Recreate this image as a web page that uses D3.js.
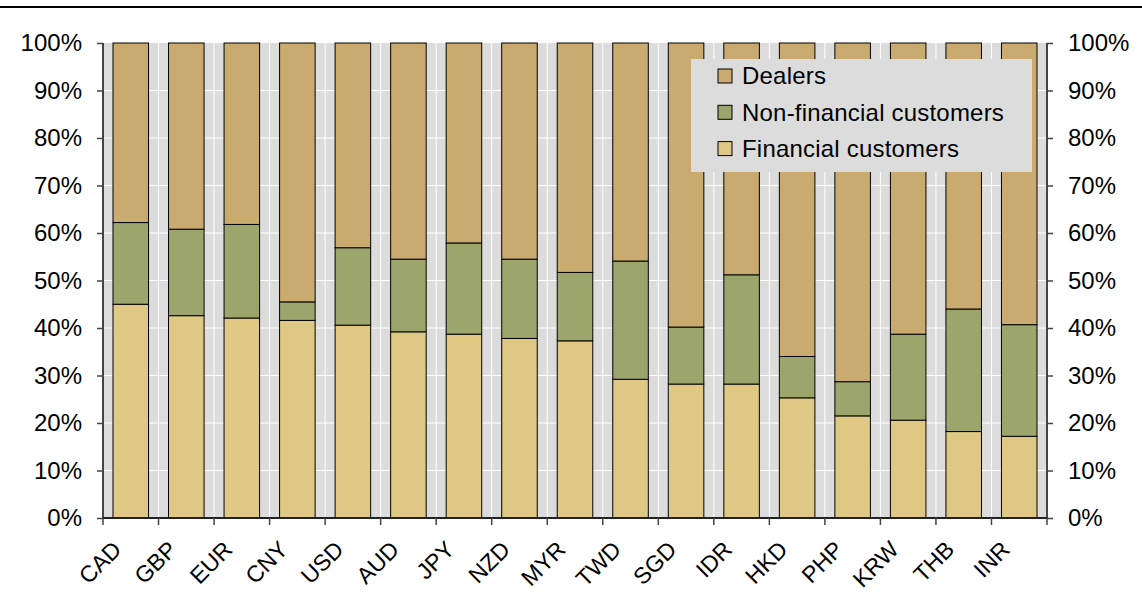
<!DOCTYPE html>
<html><head><meta charset="utf-8">
<script src="https://cdn.jsdelivr.net/npm/d3@7"></script>
<style>body{margin:0;background:#fff}svg{display:block}text{font-family:Arial,"Liberation Sans",sans-serif;fill:#000}</style>
</head><body><svg id="c" width="1142" height="592"></svg>
<script>
const categories = ["CAD","GBP","EUR","CNY","USD","AUD","JPY","NZD","MYR","TWD","SGD","IDR","HKD","PHP","KRW","THB","INR"];
const financial    = [45.0,42.6,42.1,41.6,40.6,39.2,38.7,37.8,37.3,29.2,28.2,28.2,25.3,21.5,20.6,18.2,17.2];
const nonFinancial = [17.2,18.2,19.7, 3.9,16.3,15.3,19.2,16.7,14.4,24.9,12.0,23.0, 8.7, 7.2,18.1,25.8,23.5];
const dealers      = categories.map((c,i)=>100-financial[i]-nonFinancial[i]);
const seriesNames = ["Financial customers","Non-financial customers","Dealers"];
const colors = {"Financial customers":"#dfc883","Non-financial customers":"#9ba56c","Dealers":"#c9ab70"};
const yTicks = [0,10,20,30,40,50,60,70,80,90,100];

const svg = d3.select("#c");
const L=103, R=1047, T=43, B=518;
const x = d3.scaleBand().domain(categories).range([L,R]).paddingInner(0.36).paddingOuter(0.18);
const xb = d3.scaleLinear().domain([0,categories.length]).range([L,R]);
const y = d3.scaleLinear().domain([0,100]).range([B,T]);

svg.append("line").attr("x1",0).attr("x2",1142).attr("y1",7).attr("y2",7).attr("stroke","#000").attr("stroke-width",2);

svg.append("rect").attr("x",L).attr("y",T).attr("width",R-L).attr("height",B-T).attr("fill","#dcdcdc");
svg.append("g").selectAll("line").data(yTicks.slice(1,-1)).join("line")
  .attr("x1",L).attr("x2",R).attr("y1",d=>y(d)).attr("y2",d=>y(d)).attr("stroke","#fff").attr("stroke-width",1);
svg.append("g").selectAll("line").data(d3.range(1,categories.length)).join("line")
  .attr("x1",d=>xb(d)).attr("x2",d=>xb(d)).attr("y1",T).attr("y2",B).attr("stroke","#fff").attr("stroke-width",1);

const rows = categories.map((c,i)=>({cat:c,"Financial customers":financial[i],"Non-financial customers":nonFinancial[i],"Dealers":dealers[i]}));
const stack = d3.stack().keys(seriesNames)(rows);
svg.append("g").selectAll("g").data(stack).join("g").attr("fill",d=>colors[d.key])
  .selectAll("rect").data(d=>d).join("rect")
  .attr("x",d=>x(d.data.cat)).attr("width",x.bandwidth())
  .attr("y",d=>y(d[1])).attr("height",d=>y(d[0])-y(d[1]))
  .attr("stroke","#000").attr("stroke-width",1);

const fmt = d=>d+"%";
const ly = svg.append("g").attr("transform",`translate(${L},0)`).call(d3.axisLeft(y).tickValues(yTicks).tickFormat(fmt).tickSize(6).tickPadding(15));
const ry = svg.append("g").attr("transform",`translate(${R},0)`).call(d3.axisRight(y).tickValues(yTicks).tickFormat(fmt).tickSize(6).tickPadding(15));
[ly,ry].forEach(g=>{g.selectAll("text").style("font-size","24px");g.select(".domain").attr("stroke","#444").attr("stroke-width",2);g.selectAll(".tick line").attr("stroke","#444").attr("stroke-width",1.5);});
ly.select(".domain").attr("d",`M0,${T}V${B}`);
ry.select(".domain").attr("d",`M0,${T}V${B}`);

svg.append("line").attr("x1",L).attr("x2",R).attr("y1",B).attr("y2",B).attr("stroke","#222").attr("stroke-width",2);
svg.append("g").selectAll("line").data(d3.range(0,categories.length+1)).join("line")
  .attr("x1",d=>xb(d)).attr("x2",d=>xb(d)).attr("y1",B).attr("y2",B+7).attr("stroke","#444").attr("stroke-width",1.5);
svg.append("g").selectAll("text").data(categories).join("text")
  .attr("transform",d=>`translate(${x(d)+x.bandwidth()/2-8},551) rotate(-45)`)
  .attr("text-anchor","end").style("font-size","23px").text(d=>d);

const lg = svg.append("g");
lg.append("rect").attr("x",691).attr("y",59).attr("width",341).attr("height",113).attr("fill","#dcdcdc");
const legOrder = ["Dealers","Non-financial customers","Financial customers"];
legOrder.forEach((k,i)=>{
  const cy = 76 + i*36.3;
  lg.append("rect").attr("x",718).attr("y",cy-7).attr("width",14).attr("height",14).attr("fill",colors[k]).attr("stroke","#000").attr("stroke-width",1);
  lg.append("text").attr("x",742).attr("y",cy).attr("dy","0.35em").style("font-size","24px").style("letter-spacing","0.2px").text(k);
});
</script></body></html>
